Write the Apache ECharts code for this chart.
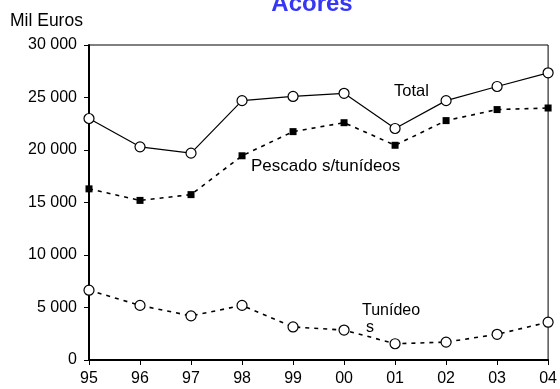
<!DOCTYPE html>
<html>
<head>
<meta charset="utf-8">
<script src="https://cdn.jsdelivr.net/npm/echarts@6/dist/echarts.min.js"></script>
<style>
  html, body { margin: 0; padding: 0; background: #fff; }
  #chart { width: 560px; height: 389px; }
</style>
</head>
<body>
<div id="chart"></div>
<script>
// Years along the x axis
const years = ['95', '96', '97', '98', '99', '00', '01', '02', '03', '04'];
// Values in thousand euros
const total = [23000, 20300, 19700, 24700, 25100, 25400, 22050, 24700, 26050, 27350];
const pescadoSemTunideos = [16300, 15200, 15750, 19450, 21750, 22600, 20450, 22800, 23850, 24000];
const tunideos = [6650, 5200, 4200, 5200, 3150, 2850, 1550, 1700, 2450, 3600];
// Y axis range
const yMin = 0, yMax = 30000, yStep = 5000;

const font = '"Liberation Sans", Arial, sans-serif';
const chart = echarts.init(document.getElementById('chart'), null, { renderer: 'canvas' });

// "25 000" style thousands
const fmt = v => v === 0 ? '0' : (v / 1000) + ' 000';

const label = (text, x, y, size, z) => ({
  type: 'text', x: x, y: y, z: z || 10,
  style: { text: text, fill: '#000', font: size + 'px ' + font, align: 'left', verticalAlign: 'middle' }
});

chart.setOption({
  animation: false,
  backgroundColor: '#ffffff',
  title: {
    text: 'Acores',
    left: 307,
    textAlign: 'center',
    top: -13,
    textStyle: { color: '#3636f4', fontSize: 24, fontWeight: 'bold', fontFamily: font }
  },
  grid: {
    left: 89, right: 8, top: 45, bottom: 29,
    show: true, borderColor: '#000', borderWidth: 1, backgroundColor: 'transparent'
  },
  xAxis: {
    type: 'category',
    data: years,
    boundaryGap: false,
    axisLine: { lineStyle: { color: '#000', width: 2 } },
    axisTick: { show: true, length: 5, alignWithLabel: true, lineStyle: { color: '#000', width: 1 } },
    axisLabel: { color: '#000', fontSize: 16, fontFamily: font, margin: 11 },
    splitLine: { show: false }
  },
  yAxis: {
    type: 'value',
    min: yMin, max: yMax, interval: yStep,
    axisLine: { show: true, lineStyle: { color: '#000', width: 2 } },
    axisTick: { show: true, length: 5, lineStyle: { color: '#000', width: 1 } },
    axisLabel: { color: '#000', fontSize: 16, fontFamily: font, margin: 12, formatter: fmt },
    splitLine: { show: false }
  },
  series: [
    {
      name: 'Total', type: 'line', data: total,
      symbol: 'circle', symbolSize: 10,
      lineStyle: { color: '#000', width: 1.2 },
      itemStyle: { color: '#fff', borderColor: '#000', borderWidth: 1.2 },
      z: 3
    },
    {
      name: 'Pescado s/tunídeos', type: 'line', data: pescadoSemTunideos,
      symbol: 'rect', symbolSize: 7,
      lineStyle: { color: '#000', width: 1.6, type: [4, 5] },
      itemStyle: { color: '#000', borderColor: '#000', borderWidth: 0 },
      z: 3
    },
    {
      name: 'Tunídeos', type: 'line', data: tunideos,
      symbol: 'circle', symbolSize: 10,
      lineStyle: { color: '#000', width: 1.6, type: [4, 5] },
      itemStyle: { color: '#fff', borderColor: '#000', borderWidth: 1.2 },
      z: 3
    }
  ],
  graphic: [
    label('Mil Euros', 10, 21, 17.5),
    label('Total', 394, 91, 16.5),
    label('Pescado s/tunídeos', 251, 166, 17),
    label('Tunídeo', 362, 311, 16),
    label('s', 366, 328, 16, 1)
  ]
});
</script>
</body>
</html>
